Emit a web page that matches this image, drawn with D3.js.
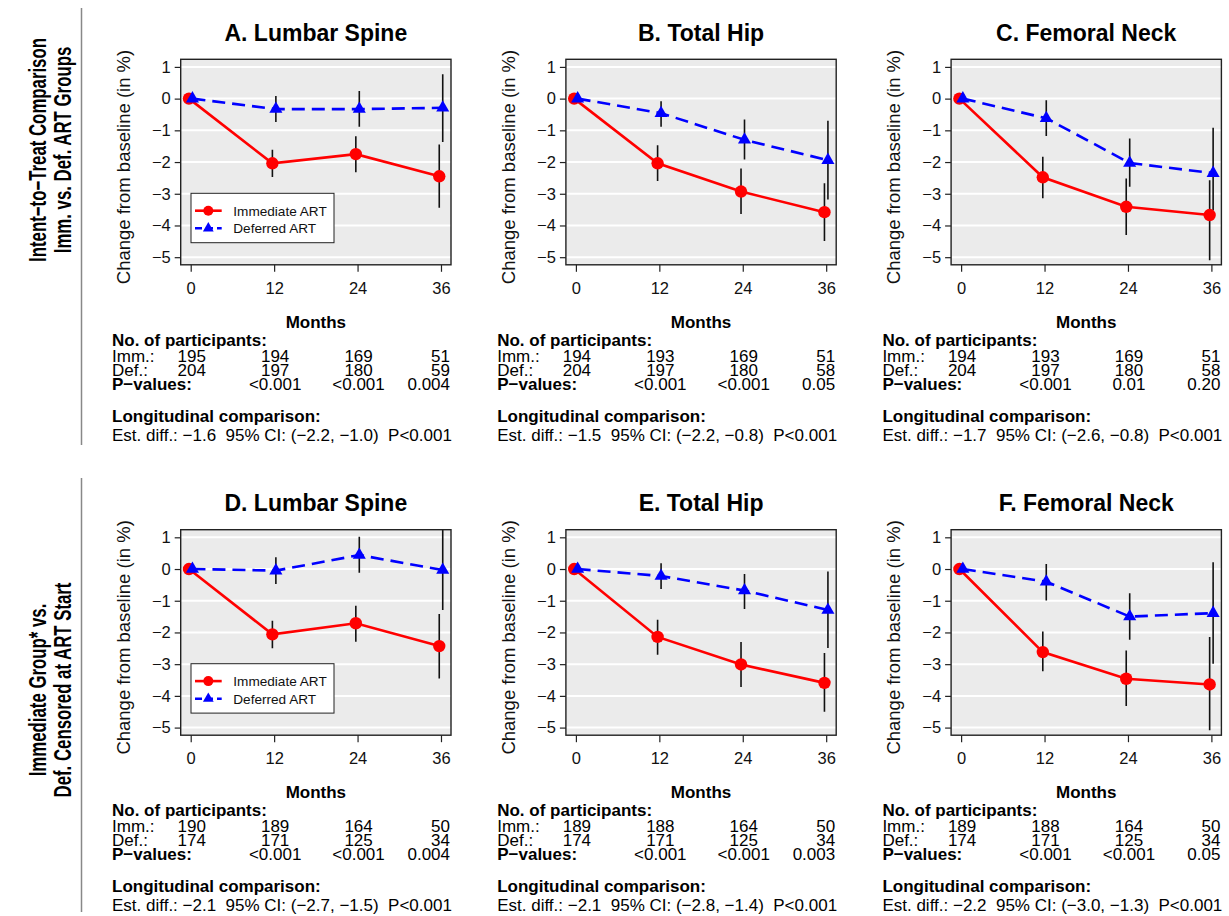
<!DOCTYPE html>
<html>
<head>
<meta charset="utf-8">
<script src="https://cdn.jsdelivr.net/npm/d3@7"></script>
<style>
  body { margin: 0; background: #fff; }
  svg { display: block; font-family: "Liberation Sans", Arial, sans-serif; }
  text { white-space: pre; }
</style>
</head>
<body>
<svg id="chart" width="1229" height="916"></svg>
<script>
const months = [0, 12, 24, 36];
const yTicks = [-5, -4, -3, -2, -1, 0, 1];

const titles = ["A. Lumbar Spine", "B. Total Hip", "C. Femoral Neck",
                "D. Lumbar Spine", "E. Total Hip", "F. Femoral Neck"];

// mean change and 95% CI, immediate ART
const immMean = [
  [0, -2.04, -1.75, -2.45],
  [0, -2.04, -2.93, -3.58],
  [0, -2.48, -3.41, -3.67],
  [0, -2.06, -1.71, -2.43],
  [0, -2.14, -3.01, -3.59],
  [0, -2.62, -3.46, -3.64]
];
const immLo = [
  [null, -2.47, -2.32, -3.44],
  [null, -2.60, -3.64, -4.49],
  [null, -3.14, -4.30, -5.10],
  [null, -2.50, -2.29, -3.45],
  [null, -2.70, -3.72, -4.50],
  [null, -3.22, -4.32, -5.08]
];
const immHi = [
  [null, -1.61, -1.19, -1.45],
  [null, -1.47, -2.20, -2.67],
  [null, -1.83, -2.52, -2.57],
  [null, -1.63, -1.16, -1.42],
  [null, -1.60, -2.30, -2.65],
  [null, -1.97, -2.57, -2.14]
];

// mean change and 95% CI, deferred ART
const defMean = [
  [0, -0.33, -0.33, -0.29],
  [0, -0.46, -1.30, -1.94],
  [0, -0.62, -2.03, -2.35],
  [0, -0.05, 0.44, -0.03],
  [0, -0.22, -0.68, -1.29],
  [0, -0.40, -1.50, -1.39]
];
const defLo = [
  [null, -0.74, -0.89, -1.37],
  [null, -0.89, -1.92, -3.18],
  [null, -1.18, -2.78, -3.53],
  [null, -0.47, -0.12, -1.29],
  [null, -0.63, -1.26, -2.49],
  [null, -0.99, -2.23, -2.99]
];
const defHi = [
  [null, 0.08, 0.24, 0.77],
  [null, -0.08, -0.66, -0.70],
  [null, -0.05, -1.26, -0.92],
  [null, 0.37, 1.02, 1.30],
  [null, 0.18, -0.16, -0.08],
  [null, 0.16, -0.76, 0.21]
];

const immN = [
  [195, 194, 169, 51], [194, 193, 169, 51], [194, 193, 169, 51],
  [190, 189, 164, 50], [189, 188, 164, 50], [189, 188, 164, 50]
];
const defN = [
  [204, 197, 180, 59], [204, 197, 180, 58], [204, 197, 180, 58],
  [174, 171, 125, 34], [174, 171, 125, 34], [174, 171, 125, 34]
];
const pValues = [
  ["<0.001", "<0.001", "0.004"], ["<0.001", "<0.001", "0.05"], ["<0.001", "0.01", "0.20"],
  ["<0.001", "<0.001", "0.004"], ["<0.001", "<0.001", "0.003"], ["<0.001", "<0.001", "0.05"]
];
const longitudinal = [
  "Est. diff.: \u22121.6  95% CI: (\u22122.2, \u22121.0)  P<0.001",
  "Est. diff.: \u22121.5  95% CI: (\u22122.2, \u22120.8)  P<0.001",
  "Est. diff.: \u22121.7  95% CI: (\u22122.6, \u22120.8)  P<0.001",
  "Est. diff.: \u22122.1  95% CI: (\u22122.7, \u22121.5)  P<0.001",
  "Est. diff.: \u22122.1  95% CI: (\u22122.8, \u22121.4)  P<0.001",
  "Est. diff.: \u22122.2  95% CI: (\u22123.0, \u22121.3)  P<0.001"
];
const rowLabels = [
  ["Intent\u2212to\u2212Treat Comparison", "Imm. vs. Def. ART Groups"],
  ["Immediate Group* vs.", "Def. Censored at ART Start"]
];
const seriesNames = ["Immediate ART", "Deferred ART"];

const colX = [0, 385.2, 770.4];
const rowY = [0, 470.4];
const box = { x0: 180.7, x1: 451, y0: 59.3, y1: 264.8 };
const dodge = 0.25;
const red = "#ff0000";
const blue = "#0000ff";

const svg = d3.select("#chart");

const x = d3.scaleLinear().domain([-1.44, 37.44]).range([box.x0, box.x1]);
const y = d3.scaleLinear().domain([-5.24, 1.24]).range([box.y1, box.y0]);

function minus(v) {
  return v < 0 ? "\u2212" + Math.abs(v) : String(v);
}

const triangle = d3.symbol().type(d3.symbolTriangle).size(74);

svg.append("defs").append("clipPath")
  .attr("id", "plotClip")
  .append("rect")
  .attr("x", box.x0).attr("y", box.y0)
  .attr("width", box.x1 - box.x0).attr("height", box.y1 - box.y0);

function drawPanel(i) {
  const col = i % 3;
  const row = Math.floor(i / 3);
  const g = svg.append("g").attr("transform", `translate(${colX[col]},${rowY[row]})`);

  g.append("rect")
    .attr("x", box.x0).attr("y", box.y0)
    .attr("width", box.x1 - box.x0).attr("height", box.y1 - box.y0)
    .attr("fill", "#ebebeb");

  g.selectAll(".grid")
    .data(yTicks)
    .enter()
    .append("line")
    .attr("x1", box.x0).attr("x2", box.x1)
    .attr("y1", d => y(d)).attr("y2", d => y(d))
    .attr("stroke", "#fff")
    .attr("stroke-width", 2);

  const imm = months.map((m, k) => ({ m: m - dodge, v: immMean[i][k], lo: immLo[i][k], hi: immHi[i][k] }));
  const def = months.map((m, k) => ({ m: m + dodge, v: defMean[i][k], lo: defLo[i][k], hi: defHi[i][k] }));

  const clipped = g.append("g").attr("clip-path", "url(#plotClip)");

  clipped.selectAll(".bar")
    .data(imm.concat(def).filter(d => d.lo !== null))
    .enter()
    .append("line")
    .attr("x1", d => x(d.m)).attr("x2", d => x(d.m))
    .attr("y1", d => y(d.lo)).attr("y2", d => y(d.hi))
    .attr("stroke", "#111")
    .attr("stroke-width", 1.6);

  const line = d3.line().x(d => x(d.m)).y(d => y(d.v));

  g.append("path")
    .attr("d", line(def))
    .attr("fill", "none")
    .attr("stroke", blue)
    .attr("stroke-width", 2.6)
    .attr("stroke-dasharray", "13,7");

  g.append("path")
    .attr("d", line(imm))
    .attr("fill", "none")
    .attr("stroke", red)
    .attr("stroke-width", 2.6);

  g.selectAll(".imm")
    .data(imm)
    .enter()
    .append("circle")
    .attr("cx", d => x(d.m)).attr("cy", d => y(d.v))
    .attr("r", 6.2)
    .attr("fill", red);

  g.selectAll(".def")
    .data(def)
    .enter()
    .append("path")
    .attr("d", triangle)
    .attr("transform", d => `translate(${x(d.m)},${y(d.v)})`)
    .attr("fill", blue);

  g.append("rect")
    .attr("x", box.x0).attr("y", box.y0)
    .attr("width", box.x1 - box.x0).attr("height", box.y1 - box.y0)
    .attr("fill", "none")
    .attr("stroke", "#222")
    .attr("stroke-width", 1.4);

  // axes
  const yAxis = g.append("g")
    .attr("transform", `translate(${box.x0},0)`)
    .call(d3.axisLeft(y).tickValues(yTicks).tickSize(6).tickPadding(4).tickFormat(minus));
  const xAxis = g.append("g")
    .attr("transform", `translate(0,${box.y1})`)
    .call(d3.axisBottom(x).tickValues(months).tickSize(7).tickPadding(10).tickFormat(d => d));

  [yAxis, xAxis].forEach(a => {
    a.select(".domain").remove();
    a.selectAll("line").attr("stroke", "#222").attr("stroke-width", 1.2);
    a.selectAll("text").attr("font-size", 16.5).attr("fill", "#111").attr("font-family", null);
  });

  const cx = (box.x0 + box.x1) / 2;

  g.append("text")
    .attr("x", cx).attr("y", 41)
    .attr("text-anchor", "middle")
    .attr("font-size", 23)
    .attr("font-weight", "bold")
    .text(titles[i]);

  g.append("text")
    .attr("transform", "translate(130,167) rotate(-90)")
    .attr("text-anchor", "middle")
    .attr("font-size", 18.5)
    .attr("fill", "#111")
    .text("Change from baseline (in %)");

  // legend in first column only
  if (col === 0) {
    const lg = g.append("g");
    lg.append("rect")
      .attr("x", 191).attr("y", 193.3)
      .attr("width", 143).attr("height", 49.4)
      .attr("fill", "#fff")
      .attr("stroke", "#222")
      .attr("stroke-width", 1);
    seriesNames.forEach((name, k) => {
      const ly = 210.7 + k * 17.6;
      lg.append("line")
        .attr("x1", 195).attr("x2", 221.7)
        .attr("y1", ly).attr("y2", ly)
        .attr("stroke", k === 0 ? red : blue)
        .attr("stroke-width", 2.6)
        .attr("stroke-dasharray", k === 0 ? null : "7,4");
      if (k === 0) {
        lg.append("circle").attr("cx", 208.3).attr("cy", ly).attr("r", 5).attr("fill", red);
      } else {
        lg.append("path")
          .attr("d", d3.symbol().type(d3.symbolTriangle).size(50)())
          .attr("transform", `translate(208.3,${ly})`)
          .attr("fill", blue);
      }
      lg.append("text")
        .attr("x", 233.3).attr("y", ly + 5)
        .attr("font-size", 13.6)
        .attr("fill", "#111")
        .text(name);
    });
  }

  // table below the plot
  const fs = 17;
  const left = 112;
  g.append("text")
    .attr("x", cx).attr("y", 328)
    .attr("text-anchor", "middle")
    .attr("font-size", fs).attr("font-weight", "bold")
    .text("Months");
  g.append("text")
    .attr("x", left).attr("y", 346)
    .attr("font-size", fs).attr("font-weight", "bold")
    .text("No. of participants:");

  const rows = [
    { label: "Imm.:", vals: immN[i].map(String), y: 362, bold: false },
    { label: "Def.:", vals: defN[i].map(String), y: 376, bold: false },
    { label: "P\u2212values:", vals: [""].concat(pValues[i]), y: 390, bold: true }
  ];
  rows.forEach(r => {
    g.append("text")
      .attr("x", left).attr("y", r.y)
      .attr("font-size", fs)
      .attr("font-weight", r.bold ? "bold" : null)
      .text(r.label);
    r.vals.forEach((v, k) => {
      if (v === "") return;
      const last = k === months.length - 1;
      g.append("text")
        .attr("x", last ? box.x1 - 1 : x(months[k]) + 1)
        .attr("y", r.y)
        .attr("text-anchor", last ? "end" : "middle")
        .attr("font-size", fs)
        .text(v);
    });
  });

  g.append("text")
    .attr("x", left).attr("y", 422)
    .attr("font-size", fs).attr("font-weight", "bold")
    .text("Longitudinal comparison:");
  g.append("text")
    .attr("x", left).attr("y", 441)
    .attr("font-size", fs)
    .text(longitudinal[i]);
}

d3.range(6).forEach(drawPanel);

// row labels and separators on the left
const labelCenters = [150, 690];
const sepRanges = [[8, 445], [478, 912]];
rowLabels.forEach((lines, r) => {
  lines.forEach((t, k) => {
    svg.append("text")
      .attr("transform", `translate(${46 + k * 25},${labelCenters[r]}) rotate(-90) scale(0.7,1)`)
      .attr("text-anchor", "middle")
      .attr("font-size", 24)
      .attr("font-weight", "bold")
      .text(t);
  });
  svg.append("line")
    .attr("x1", 81.5).attr("x2", 81.5)
    .attr("y1", sepRanges[r][0]).attr("y2", sepRanges[r][1])
    .attr("stroke", "#888")
    .attr("stroke-width", 1.5);
});
</script>
</body>
</html>
